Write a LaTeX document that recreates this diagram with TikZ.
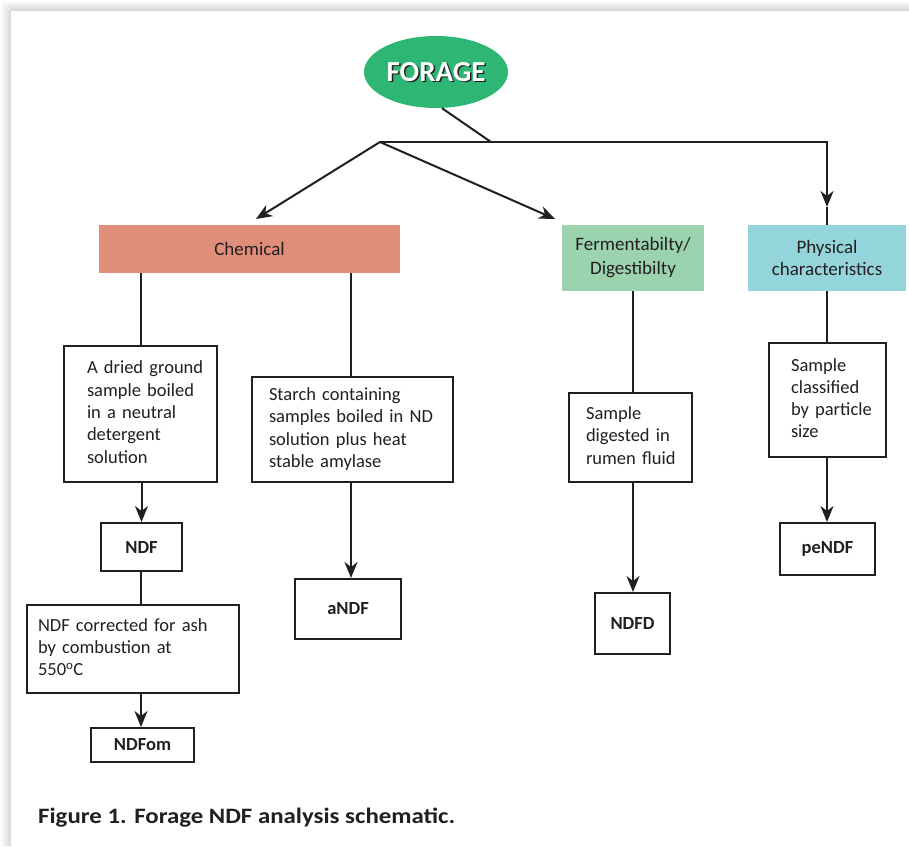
\documentclass[tikz,border=0pt]{standalone}
\usepackage{fontspec}
\setmainfont{Carlito}
\usetikzlibrary{arrows.meta,shapes.geometric}
\definecolor{ink}{HTML}{231F20}
\definecolor{chemfill}{HTML}{E08E7A}
\definecolor{fermfill}{HTML}{9BD3AE}
\definecolor{physfill}{HTML}{94D5DB}
\definecolor{foragefill}{HTML}{2EB675}
\newcommand{\lines}[1]{\begin{tabular}{@{}l@{}}#1\end{tabular}}
\tikzset{
  conn/.style={draw=ink, line width=2pt},
  arr/.style={conn, -{Stealth[length=16pt,width=13pt,inset=5pt]}},
  catbox/.style={inner sep=0pt, align=center, text=ink,
    font=\fontsize{19}{22.3}\selectfont},
  stepbox/.style={draw=ink, line width=2pt, inner sep=0pt, align=left, text=ink,
    font=\fontsize{18.5}{22.3}\selectfont},
  resbox/.style={draw=ink, line width=2pt, inner sep=0pt, align=center, text=ink,
    font=\bfseries\fontsize{18.5}{22.3}\selectfont},
}
\begin{document}
\begin{tikzpicture}[x=1pt,y=-1pt]
\useasboundingbox (0,0) rectangle (909,846);
\fill[white] (0,0) rectangle (909,846);
\foreach \i in {0,...,10} {
  \pgfmathsetmacro\g{1.5*\i}
  \draw[black!\g, line width=1pt] (\i+0.5,\i+0.5) -- (909,\i+0.5);
  \draw[black!\g, line width=1pt] (\i+0.5,\i+0.5) -- (\i+0.5,846);
}
\fill[white] (11,11) rectangle (909,846);

% top node
\node[ellipse, fill=foragefill, minimum width=144pt, minimum height=72pt, inner sep=0pt] (forage) at (436,72) {};
\node[text=ink, font=\bfseries\fontsize{29}{32}\selectfont] (forageshadow) at ([shift={(1.5,1.5)}]forage.center) {FORAGE};
\node[text=white, font=\bfseries\fontsize{29}{32}\selectfont] (foragetext) at (forage.center) {FORAGE};

% category boxes
\node[catbox, fill=chemfill, minimum width=301pt, minimum height=48pt] (chem) at (249.5,249) {Chemical};
\node[catbox, fill=fermfill, minimum width=142pt, minimum height=66pt, font=\fontsize{19}{24}\selectfont] (ferm) at (633,258) {Fermentabilty/\\Digestibilty};
\node[catbox, fill=physfill, minimum width=158pt, minimum height=66pt] (phys) at (827,258) {Physical\\characteristics};

% step boxes
\node[stepbox, minimum width=153pt, minimum height=136pt, text width=107pt] (adry) at (140.5,414) {\lines{A dried ground\\sample boiled\\in a neutral\\detergent\\solution}};
\node[stepbox, minimum width=201pt, minimum height=105pt, text width=167pt] (starch) at (352.5,429.5) {\lines{Starch containing\\samples boiled in ND\\solution plus heat\\stable amylase}};
\node[stepbox, minimum width=123pt, minimum height=89pt, text width=89pt] (digest) at (630.5,437.5) {\lines{Sample\\digested in\\rumen fluid}};
\node[stepbox, minimum width=117pt, minimum height=114pt, text width=73pt] (classif) at (827.5,400) {\lines{Sample\\classified\\by particle\\size}};
\node[stepbox, minimum width=212pt, minimum height=88pt, text width=190pt] (ndfcorr) at (133,649) {\lines{NDF corrected for ash\\by combustion at\\550\textsuperscript{o}C}};

% result boxes
\node[resbox, minimum width=81pt, minimum height=48pt] (ndf) at (141.5,547) {NDF};
\node[resbox, minimum width=103pt, minimum height=34pt] (ndfom) at (142.5,745) {NDFom};
\node[resbox, minimum width=106pt, minimum height=60pt] (andf) at (348,609) {aNDF};
\node[resbox, minimum width=75pt, minimum height=61pt] (ndfd) at (632.5,623.5) {NDFD};
\node[resbox, minimum width=95pt, minimum height=52pt] (pendf) at (827.5,549) {peNDF};

% junctions
\coordinate (jtop) at (491,142);
\coordinate (jleft) at (380,142);
\coordinate (jright) at (827,142);
\coordinate (tipchem) at (256,219);
\coordinate (tipferm) at (555,219);
\coordinate (tipphys) at (827,207);

\draw[conn] ([xshift=6pt]forage.south) -- (jtop);
\draw[conn, line cap=rect] (jleft) -- (jright);
\draw[arr] (jleft) -- (tipchem);
\draw[arr] (jleft) -- (tipferm);
\draw[arr] (jright) -- (tipphys);
\draw[conn] (tipphys) -- (phys.north);

% vertical links
\draw[conn] (adry.north |- chem.south) -- (adry.north);
\draw[conn] ([xshift=-1.5pt]starch.north |- chem.south) -- ([xshift=-1.5pt]starch.north);
\draw[conn] (ferm.south) -- (ferm.south |- digest.north);
\draw[conn] (phys.south) -- (phys.south |- classif.north);
\draw[arr] (ndf.north |- adry.south) -- (ndf.north);
\draw[conn] ([xshift=-0.5pt]ndf.south) -- ([xshift=-0.5pt]ndf.south |- ndfcorr.north);
\draw[arr] ([xshift=-1.5pt]ndfom.north |- ndfcorr.south) -- ([xshift=-1.5pt]ndfom.north);
\draw[arr] ([xshift=-1.5pt]starch.south) -- ([xshift=-1.5pt]starch.south |- andf.north);
\draw[arr] (ferm.south |- digest.south) -- (ferm.south |- ndfd.north);
\draw[arr] (phys.south |- classif.south) -- (phys.south |- pendf.north);

% caption
\node[anchor=base west, text=ink, inner sep=0pt, font=\bfseries\fontsize{22}{26}\selectfont] (caption) at (38,823) {\scalebox{1.13}[1]{Figure 1. Forage NDF analysis schematic.}};
\end{tikzpicture}
\end{document}
